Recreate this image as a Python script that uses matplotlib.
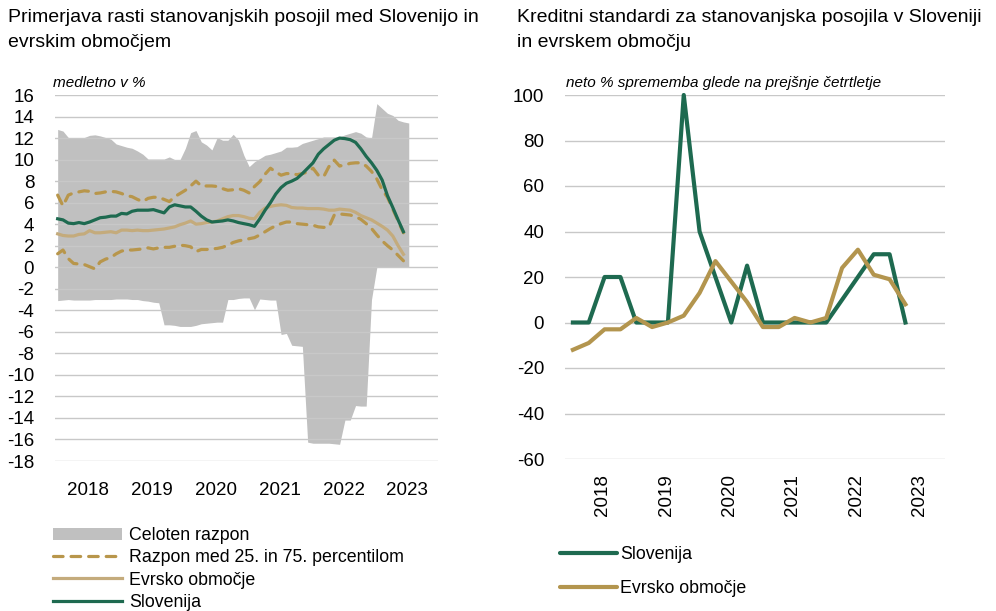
import numpy as np
import matplotlib
matplotlib.use("Agg")
import matplotlib.pyplot as plt
from matplotlib.patches import Patch
from matplotlib.lines import Line2D

plt.rcParams['font.family'] = ['Liberation Sans', 'DejaVu Sans']
plt.rcParams['axes.unicode_minus'] = False

# levi graf: mesecni podatki od jan 2018
razpon_max = [12.8, 12.65, 12.05, 12.0, 12.05, 12.05, 12.25, 12.3, 12.2, 12.05,
              11.9, 11.45, 11.3, 11.15, 11.05, 10.8, 10.5, 10.05, 10.05, 10.05,
              10.05, 10.25, 10.0, 10.0, 11.05, 12.5, 12.7, 11.65, 11.35, 10.9,
              12.05, 11.8, 11.8, 12.35, 11.8, 10.4, 9.35, 9.8, 10.1, 10.4,
              10.5, 10.65, 10.8, 11.15, 11.15, 11.2, 11.5, 11.65, 11.8, 11.95,
              12.1, 12.1, 12.1, 12.1, 12.3, 12.45, 12.6, 12.45, 12.1, 12.0,
              15.2, 14.75, 14.3, 14.1, 13.65, 13.5, 13.4]
razpon_min = [-3.1, -3.05, -3.0, -3.05, -3.05, -3.05, -3.05, -3.0, -3.0, -3.0,
              -3.0, -2.95, -2.95, -2.95, -3.0, -3.0, -3.1, -3.15, -3.25, -3.3,
              -5.35, -5.35, -5.4, -5.5, -5.5, -5.5, -5.4, -5.25, -5.2, -5.15,
              -5.1, -5.1, -3.0, -3.0, -2.9, -2.85, -2.85, -3.95, -2.95, -3.0,
              -3.05, -3.05, -6.25, -6.15, -7.25, -7.3, -7.35, -16.25, -16.35, -16.35,
              -16.35, -16.35, -16.4, -16.45, -14.2, -14.2, -12.85, -12.9, -12.9, -3.0,
              0, 0, 0, 0, 0, 0, 0]
p75 = [6.7, 5.7, 6.7, 6.9, 7.0, 7.1, 7.05, 6.85, 6.9, 7.0,
       7.05, 7.0, 6.85, 6.65, 6.55, 6.3, 6.1, 6.4, 6.5, 6.5,
       6.3, 6.1, 6.55, 6.85, 7.15, 7.55, 8.0, 7.55, 7.55, 7.55,
       7.5, 7.3, 7.15, 7.2, 7.3, 7.15, 6.9, 7.5, 7.95, 8.65,
       9.2, 8.85, 8.55, 8.7, 8.7, 8.6, 8.7, 8.85, 9.2, 8.55,
       8.4, 9.35, 9.95, 9.4, 9.5, 9.65, 9.7, 9.7, 9.4, 8.9,
       8.2, 7.2, 6.5, 5.4, 4.3, 3.2]
p25 = [1.25, 1.6, 0.8, 0.35, 0.3, 0.25, 0.05, -0.15, 0.5, 0.75,
       0.9, 1.25, 1.5, 1.6, 1.6, 1.65, 1.7, 1.8, 1.7, 1.8,
       1.85, 1.85, 1.95, 2.05, 2.0, 1.9, 1.45, 1.65, 1.65, 1.7,
       1.75, 1.85, 2.05, 2.3, 2.45, 2.55, 2.65, 2.75, 3.0, 3.3,
       3.6, 3.85, 4.05, 4.2, 4.2, 4.05, 4.0, 3.95, 3.9, 3.75,
       3.7, 3.75, 4.85, 4.95, 4.9, 4.85, 4.7, 4.45, 4.05, 3.6,
       3.0, 2.45, 2.0, 1.6, 1.1, 0.6]
evro = [3.1, 2.95, 2.9, 2.9, 3.05, 3.1, 3.4, 3.2, 3.2, 3.25,
        3.3, 3.2, 3.45, 3.45, 3.4, 3.45, 3.4, 3.4, 3.45, 3.5,
        3.55, 3.65, 3.75, 3.95, 4.1, 4.3, 4.0, 4.05, 4.15, 4.2,
        4.3, 4.5, 4.7, 4.8, 4.8, 4.7, 4.55, 4.5, 5.1, 5.5,
        5.65, 5.75, 5.8, 5.75, 5.55, 5.5, 5.5, 5.45, 5.45, 5.45,
        5.4, 5.3, 5.3, 5.4, 5.35, 5.3, 5.1, 4.8, 4.6, 4.4,
        4.1, 3.8, 3.45, 2.9, 2.0, 1.2]
slovenija = [4.5, 4.4, 4.1, 4.05, 4.15, 4.05, 4.2, 4.4, 4.6, 4.65,
             4.75, 4.75, 5.0, 4.95, 5.2, 5.3, 5.3, 5.3, 5.35, 5.2,
             5.05, 5.6, 5.8, 5.7, 5.6, 5.6, 5.2, 4.75, 4.4, 4.2,
             4.25, 4.3, 4.4, 4.3, 4.15, 4.05, 3.95, 3.8, 4.5, 5.3,
             6.0, 6.8, 7.4, 7.8, 8.0, 8.25, 8.7, 9.2, 9.7, 10.5,
             11.0, 11.4, 11.8, 12.0, 11.95, 11.85, 11.6, 11.0, 10.3, 9.7,
             9.0, 8.1, 6.65, 5.55, 4.4, 3.3]

# desni graf: cetrtletni podatki od Q1 2018
ks_slovenija = [0, 0, 20, 20, 0, 0, 0, 100, 40, 20, 0, 25, 0, 0, 0, 0, 0, 10, 20, 30, 30, 0]
ks_evro = [-12, -9, -3, -3, 2, -2, 0, 3, 13, 27, 18, 9, -2, -2, 2, 0, 2, 24, 32, 21, 19, 8]

leta = [2018, 2019, 2020, 2021, 2022, 2023]

GREEN = '#1e6a50'
GOLD = '#b3954e'
TAN = '#c4ab7c'
DASH = '#b8964b'
GRAY = '#c0c0c0'
GRID = '#c8c8c8'
FS_TICK = 13.5
FS_TITLE = 14
FS_LEG = 12.8

fig = plt.figure(figsize=(9.96, 6.11), dpi=100)

# ---- levo
ax1 = fig.add_axes([55 / 996, 150 / 611, 383 / 996, 366 / 611])
x_m = 2018 + (np.arange(len(razpon_max)) + 0.5) / 12
x_l = x_m[:len(slovenija)]
ax1.fill_between(x_m, razpon_min, razpon_max, color=GRAY, lw=0, zorder=1)
ax1.plot(x_l, p75, color=DASH, lw=2.3, dashes=(3, 2.5), dash_capstyle='round', zorder=3)
ax1.plot(x_l, p25, color=DASH, lw=2.3, dashes=(3, 2.5), dash_capstyle='round', zorder=3)
ax1.plot(x_l, evro, color=TAN, lw=2.3, zorder=4)
ax1.plot(x_l, slovenija, color=GREEN, lw=2.3, zorder=5)
ax1.set_xlim(2018, 2024)
ax1.set_ylim(-18, 16)
ax1.set_yticks(np.arange(-18, 17, 2))
ax1.set_xticks([l + 0.52 for l in leta])
ax1.set_xticklabels([str(l) for l in leta])
ax1.grid(axis='y', color=GRID, lw=1, zorder=2)
ax1.set_axisbelow(False)
for s in ax1.spines.values():
    s.set_visible(False)
ax1.tick_params(axis='both', length=0, labelsize=FS_TICK)
ax1.tick_params(axis='y', pad=15)
ax1.tick_params(axis='x', pad=15)

# ---- desno
ax2 = fig.add_axes([565 / 996, 152 / 611, 380 / 996, 364 / 611])
x_q = 2018 + (np.arange(len(ks_slovenija)) + 0.5) / 4
ax2.plot(x_q, ks_slovenija, color=GREEN, lw=3, zorder=3, clip_on=False)
ax2.plot(x_q, ks_evro, color=GOLD, lw=3, zorder=4, clip_on=False)
ax2.set_xlim(2018, 2024)
ax2.set_ylim(-60, 100)
ax2.set_yticks(np.arange(-60, 101, 20))
ax2.set_xticks([l + 0.6 for l in leta])
ax2.set_xticklabels([str(l) for l in leta], rotation=90)
ax2.grid(axis='y', color=GRID, lw=1, zorder=0)
ax2.set_axisbelow(True)
for s in ax2.spines.values():
    s.set_visible(False)
ax2.tick_params(axis='both', length=0, labelsize=FS_TICK)
ax2.tick_params(axis='y', pad=15)
ax2.tick_params(axis='x', pad=11)

# naslovi
fig.text(8 / 996, 1 - 9 / 611, 'Primerjava rasti stanovanjskih posojil med Slovenijo in\nevrskim območjem',
         fontsize=FS_TITLE, va='top', ha='left', linespacing=1.6)
fig.text(517 / 996, 1 - 9 / 611, 'Kreditni standardi za stanovanjska posojila v Sloveniji\nin evrskem območju',
         fontsize=FS_TITLE, va='top', ha='left', linespacing=1.6)
fig.text(53 / 996, 1 - 83 / 611, 'medletno v %', fontsize=11, style='italic', va='center')
fig.text(566 / 996, 1 - 83 / 611, 'neto % sprememba glede na prejšnje četrtletje', fontsize=11,
         style='italic', va='center')

# legende
h1 = [Patch(facecolor=GRAY, edgecolor='none'),
      Line2D([], [], color=DASH, lw=2.3, dashes=(3, 2.5), dash_capstyle='round'),
      Line2D([], [], color=TAN, lw=2.3),
      Line2D([], [], color=GREEN, lw=2.3)]
l1 = ['Celoten razpon', 'Razpon med 25. in 75. percentilom', 'Evrsko območje', 'Slovenija']
fig.legend(h1, l1, loc='upper left', bbox_to_anchor=(53 / 996, 1 - 527 / 611), frameon=False,
           fontsize=FS_LEG, handlelength=3.9, handletextpad=0.4, labelspacing=0.3, borderpad=0,
           borderaxespad=0)

h2 = [Line2D([], [], color=GREEN, lw=3, solid_capstyle='round'),
      Line2D([], [], color=GOLD, lw=3, solid_capstyle='round')]
l2 = ['Slovenija', 'Evrsko območje']
fig.legend(h2, l2, loc='upper left', bbox_to_anchor=(560 / 996, 1 - 546 / 611), frameon=False,
           fontsize=FS_LEG, handlelength=3.2, handletextpad=0.2, labelspacing=0.95, borderpad=0,
           borderaxespad=0)

fig.savefig('out.png', dpi=100)
